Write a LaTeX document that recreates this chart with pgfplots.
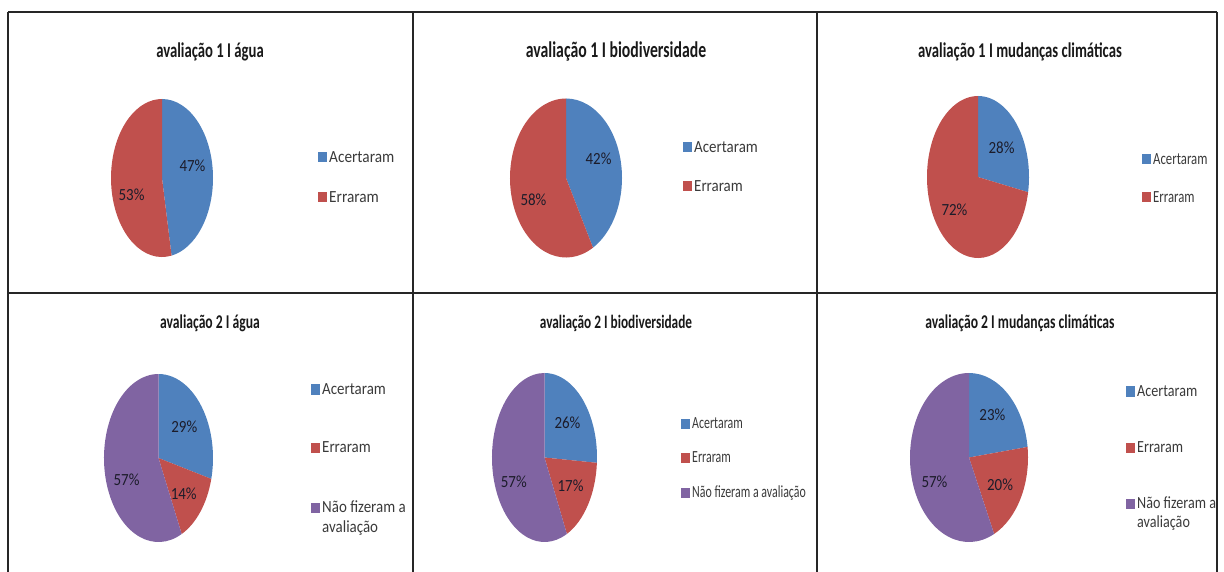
\documentclass[border=0pt]{standalone}
\usepackage{pgfplots}
\pgfplotsset{compat=1.18}
\usepackage{fontspec}
\setmainfont{Carlito}
\newfontfamily\titlef{Carlito}[FakeStretch=0.70]
\newfontfamily\legf{Carlito}[FakeStretch=0.88]
\newfontfamily\legwide{Carlito}[FakeStretch=0.90]
\newfontfamily\legmid{Carlito}[FakeStretch=0.83]
\newfontfamily\legnarrow{Carlito}[FakeStretch=0.75]
\newfontfamily\legtight{Carlito}[FakeStretch=0.70]

\definecolor{xblue}{HTML}{4F81BD}
\definecolor{xred}{HTML}{C0504D}
\definecolor{xpurple}{HTML}{8064A2}
\definecolor{framec}{HTML}{262626}
\definecolor{lbl}{HTML}{1C1C2A}
\definecolor{legtext}{HTML}{3A3A3A}

\newcommand{\lblfont}{\legf\fontsize{17}{19}\selectfont}
\let\legfam\legf
\newcommand{\legfont}{\legfam\fontsize{17}{19}\selectfont}

% #1,#2 centre (pt), #3,#4 width/height of the pie (pt),
% #5 list pct/colour/label nudge (pt, up)
\newcommand{\pie}[5]{%
\begin{axis}[at={(#1pt,#2pt)}, anchor=center, scale only axis,
  width=#3pt, height=#4pt, xmin=-1, xmax=1, ymin=-1, ymax=1,
  hide axis, clip=false]
  \pgfmathsetmacro\rx{#3/2}\pgfmathsetmacro\ry{#4/2}
  \xdef\pa{90}
  \foreach \p/\col/\dy in {#5}{%
    \pgfmathsetmacro\pb{\pa-3.6*\p}
    \pgfmathsetmacro\sx{cos(\pa)}\pgfmathsetmacro\sy{sin(\pa)}
    \edef\temp{\noexpand\fill[\col] (axis cs:0,0) -- (axis cs:\sx,\sy)
      arc[start angle=\pa, end angle=\pb, x radius=\rx pt, y radius=\ry pt] -- cycle;}
    \temp
    \xdef\pa{\pb}
  }
  \xdef\pa{90}
  \foreach \p/\col/\dy in {#5}{%
    \pgfmathsetmacro\pb{\pa-3.6*\p}
    \pgfmathsetmacro\lx{0.6*cos((\pa+\pb)/2)}
    \pgfmathsetmacro\ly{0.6*sin((\pa+\pb)/2)+\dy/\ry}
    \edef\temp{\noexpand\node[font=\noexpand\lblfont, text=lbl, inner sep=0pt] at (axis cs:\lx,\ly) {\p\noexpand\%};}
    \temp
    \xdef\pa{\pb}
  }
\end{axis}}

% #1 x of swatch, #2 baseline, #3 colour, #4 text
\newcommand{\legitem}[4]{%
  \fill[#3] (#1,#2) rectangle (#1+8.5,#2+10);
  \node[anchor=base west, inner sep=0pt, font=\legfont, text=legtext] at (#1+11,#2) {#4};}
\newcommand{\legline}[3]{%
  \node[anchor=base west, inner sep=0pt, font=\legfont, text=legtext] at (#1+11,#2) {#3};}

\begin{document}
\begin{tikzpicture}[x=1pt, y=1pt]
\path[use as bounding box] (0,0) rectangle (1224,571);

% frame
\begin{scope}[framec, line width=1.8pt]
  \draw (8,559) -- (1217,559);
  \draw (8,278) -- (1217,278);
  \draw (8,559) -- (8,-5);
  \draw (413,559) -- (413,-5);
  \draw (817,559) -- (817,-5);
  \draw (1217,559) -- (1217,-5);
\end{scope}

% titles
\begin{scope}[every node/.style={text=black!90, inner sep=0pt, anchor=base}]
  \node[font=\titlef\bfseries\fontsize{21}{24}\selectfont] at (210,513) {avaliação 1 I água};
  \node[font=\titlef\bfseries\fontsize{22.5}{24}\selectfont] at (616,513) {avaliação 1 I biodiversidade};
  \node[font=\titlef\bfseries\fontsize{21}{24}\selectfont] at (1020,513) {avaliação 1 I mudanças climáticas};
  \node[font=\titlef\bfseries\fontsize{19.5}{22}\selectfont] at (210,242) {avaliação 2 I água};
  \node[font=\titlef\bfseries\fontsize{19}{22}\selectfont] at (616,242) {avaliação 2 I biodiversidade};
  \node[font=\titlef\bfseries\fontsize{19.5}{22}\selectfont] at (1020,242) {avaliação 2 I mudanças climáticas};
\end{scope}

% pies
\pie{162}{393}{102}{158}{47/xblue/8, 53/xred/-12}
\pie{566}{393}{112}{159}{42/xblue/7, 58/xred/-10}
\pie{978}{394}{102}{162}{28/xblue/-2, 72/xred/-2}
\pie{158.5}{113}{109}{168}{29/xblue/0, 14/xred/-4, 57/xpurple/-11}
\pie{544.5}{113.5}{105}{169}{26/xblue/0, 17/xred/0, 57/xpurple/-13}
\pie{969}{113.5}{118}{169}{23/xblue/5, 20/xred/-3, 57/xpurple/-13}

% legends
\let\legfam\legwide
\legitem{318}{408.5}{xblue}{Acertaram}
\legitem{318}{368.5}{xred}{Erraram}
\let\legfam\legf
\legitem{683}{418.5}{xblue}{Acertaram}
\legitem{683}{379.5}{xred}{Erraram}
\let\legfam\legnarrow
\legitem{1142}{406.5}{xblue}{Acertaram}
\legitem{1142}{368.5}{xred}{Erraram}

\let\legfam\legf
\legitem{311}{176.5}{xblue}{Acertaram}
\legitem{311}{118.5}{xred}{Erraram}
\legitem{311}{58.5}{xpurple}{Não fizeram a}
\legline{311}{38.5}{avaliação}
\let\legfam\legtight
\legitem{681}{142.5}{xblue}{Acertaram}
\legitem{681}{108.5}{xred}{Erraram}
\legitem{681}{73.5}{xpurple}{Não fizeram a avaliação}
\let\legfam\legmid
\legitem{1126}{174.5}{xblue}{Acertaram}
\legitem{1126}{118.5}{xred}{Erraram}
\legitem{1126}{62.5}{xpurple}{Não fizeram a}
\legline{1126}{43.5}{avaliação}
\end{tikzpicture}
\end{document}
